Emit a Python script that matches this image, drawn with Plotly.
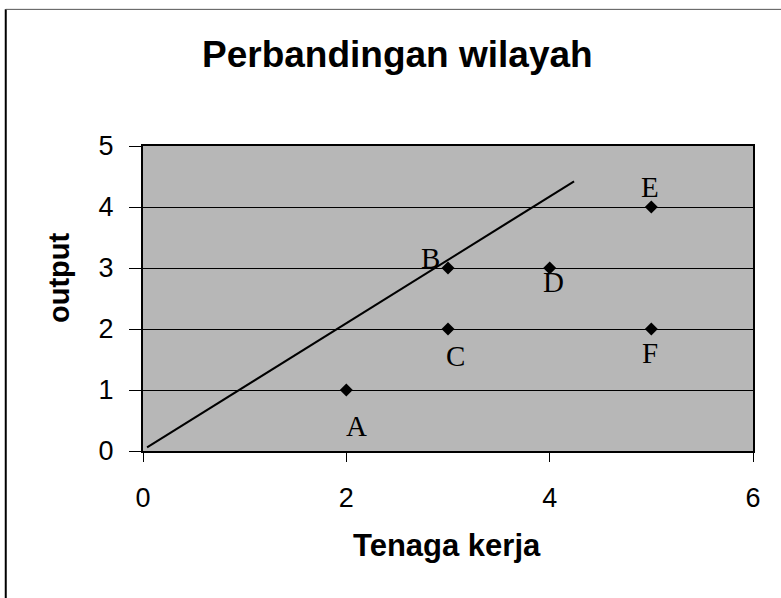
import plotly.graph_objects as go

# Regional comparison: labour input vs output
regions = ["A", "B", "C", "D", "E", "F"]
tenaga_kerja = [2, 3, 3, 4, 5, 5]
output = [1, 3, 2, 3, 4, 2]

# Reference line drawn across the chart
line_x = [0.04, 4.24]
line_y = [0.06, 4.42]

x_range = [0, 6]
y_range = [0, 5]
x_ticks = [0, 2, 4, 6]
y_ticks = [0, 1, 2, 3, 4, 5]

# pixel offsets of each region label from its marker
label_shift = {
    "A": (10, -36), "B": (-18, 10), "C": (7, -27),
    "D": (4, -14), "E": (-1, 20), "F": (-1, -24),
}

fig = go.Figure()

fig.add_trace(go.Scatter(
    x=line_x, y=line_y, mode="lines",
    line=dict(color="black", width=2), showlegend=False, hoverinfo="skip",
))

fig.add_trace(go.Scatter(
    x=tenaga_kerja, y=output, mode="markers",
    marker=dict(symbol="diamond", size=10, color="black"),
    showlegend=False,
))

for name, xv, yv in zip(regions, tenaga_kerja, output):
    dx, dy = label_shift[name]
    fig.add_annotation(
        x=xv, y=yv, text=name, showarrow=False,
        xshift=dx, yshift=dy, xanchor="center", yanchor="middle",
        font=dict(family="Liberation Serif", size=29, color="black"),
    )

# Chart title and axis titles
fig.add_annotation(
    x=0.417, y=1.30, xref="paper", yref="paper", text="<b>Perbandingan wilayah</b>",
    showarrow=False, xanchor="center", yanchor="middle",
    font=dict(family="Liberation Sans", size=37, color="black"),
)
fig.add_annotation(
    x=0.499, y=-0.31, xref="paper", yref="paper", text="<b>Tenaga kerja</b>",
    showarrow=False, xanchor="center", yanchor="middle",
    font=dict(family="Liberation Sans", size=31, color="black"),
)
fig.add_annotation(
    x=-0.138, y=0.57, xref="paper", yref="paper", text="<b>output</b>",
    showarrow=False, xanchor="center", yanchor="middle", textangle=-90,
    font=dict(family="Liberation Sans", size=29, color="black"),
)

# outer chart frame (left and top edges)
fig.add_shape(type="line", xref="paper", yref="paper",
              x0=-0.225, x1=-0.225, y0=1.448, y1=-0.49,
              line=dict(color="black", width=2))
fig.add_shape(type="line", xref="paper", yref="paper",
              x0=-0.225, x1=1.05, y0=1.448, y1=1.448,
              line=dict(color="#555555", width=1))

fig.update_layout(
    width=781, height=598,
    margin=dict(l=143, r=28, t=146, b=147),
    paper_bgcolor="white",
    plot_bgcolor="#b7b7b7",
    font=dict(family="Liberation Sans", color="black"),
)

fig.update_xaxes(
    range=x_range, tickvals=x_ticks, ticks="outside", ticklen=9, tickwidth=1,
    tickcolor="black", showgrid=False, zeroline=False,
    showline=True, linecolor="black", linewidth=2, mirror=True,
    tickfont=dict(size=27, family="Liberation Sans"), ticklabelstandoff=13,
)
fig.update_yaxes(
    range=y_range, tickvals=y_ticks, ticks="outside", ticklen=12, tickwidth=1,
    tickcolor="black", showgrid=True, gridcolor="black", gridwidth=1,
    zeroline=False, showline=True, linecolor="black", linewidth=2, mirror=True,
    tickfont=dict(size=27, family="Liberation Sans"), ticklabelstandoff=10,
)

fig.write_html("out.html")
